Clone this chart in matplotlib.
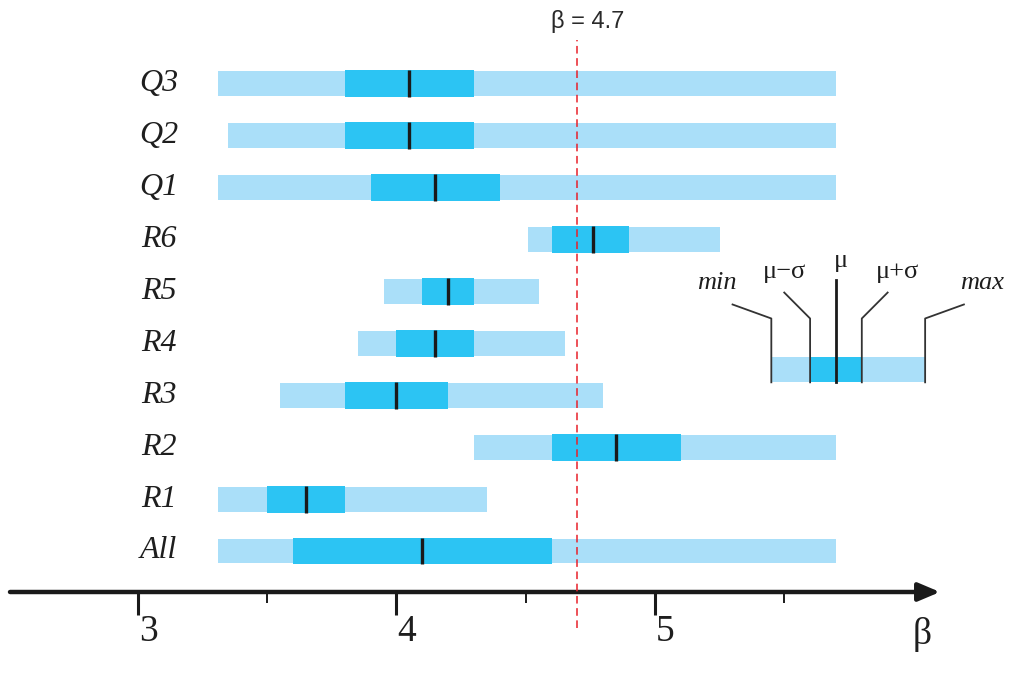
import matplotlib
matplotlib.use("Agg")
import matplotlib.pyplot as plt

# donnees
groupes = ["All", "R1", "R2", "R3", "R4", "R5", "R6", "Q1", "Q2", "Q3"]
minimum = [3.31, 3.31, 4.30, 3.55, 3.85, 3.95, 4.51, 3.31, 3.35, 3.31]
maximum = [5.70, 4.35, 5.70, 4.80, 4.65, 4.55, 5.25, 5.70, 5.70, 5.70]
moins_sigma = [3.60, 3.50, 4.60, 3.80, 4.00, 4.10, 4.60, 3.90, 3.80, 3.80]
plus_sigma = [4.60, 3.80, 5.10, 4.20, 4.30, 4.30, 4.90, 4.40, 4.30, 4.30]
moyenne = [4.10, 3.65, 4.85, 4.00, 4.15, 4.20, 4.76, 4.15, 4.05, 4.05]
beta_cible = 4.7
ticks_majeurs = [3, 4, 5]
ticks_mineurs = [3.5, 4.5, 5.5]

# barre d'exemple (legende)
leg_min, leg_ms, leg_mu, leg_ps, leg_max = 5.45, 5.60, 5.70, 5.80, 6.045
leg_y = 3.5

CLAIR = "#aadff9"
FONCE = "#2cc4f3"
SERIF = "Liberation Serif"
TEXTE = "#1e1e1e"

fig = plt.figure(figsize=(10.14, 6.75), dpi=100)
ax = fig.add_axes([0, 0, 1, 1])
ax.set_xlim(3 - 138 / 258.5, 3 + 876 / 258.5)
ax.set_ylim((551 - 675) / 51.9, 551 / 51.9)
ax.axis("off")

for i, nom in enumerate(groupes):
    ax.barh(i, maximum[i] - minimum[i], left=minimum[i], height=0.48, color=CLAIR, zorder=2)
    ax.barh(i, plus_sigma[i] - moins_sigma[i], left=moins_sigma[i], height=0.52, color=FONCE, zorder=3)
    ax.vlines(moyenne[i], i - 0.26, i + 0.26, color="#1a1a1a", lw=2.4, zorder=4)
    ax.text(3.08, i, nom, ha="center", va="center", family=SERIF, style="italic",
            fontsize=23, color=TEXTE)

# ligne beta = 4.7
ax.vlines(beta_cible, -1.48, 9.85, color="#e8202a", lw=1.1, linestyle=(0, (5, 3)), zorder=5)
ax.text(beta_cible + 0.04, 10.2, "β = 4.7", ha="center", va="center", fontsize=17,
        family="Liberation Sans", color="#2a2a2a")

# axe horizontal avec fleche
y_axe = (551 - 592) / 51.9
ax.annotate("", xy=(3 + (940 - 138) / 258.5, y_axe), xytext=(3 - 128 / 258.5, y_axe),
            arrowprops=dict(arrowstyle="-|>,head_length=1.3,head_width=0.55",
                            color="#1a1a1a", lw=3.2, shrinkA=0, shrinkB=0))
ax.vlines(ticks_majeurs, (551 - 615) / 51.9, y_axe, color="#1a1a1a", lw=2.2)
ax.vlines(ticks_mineurs, (551 - 603) / 51.9, y_axe, color="#1a1a1a", lw=1.4)
for t in ticks_majeurs:
    ax.text(t + 0.04, (551 - 632) / 51.9, str(t), ha="center", va="center",
            family=SERIF, fontsize=27, color=TEXTE)
ax.text(3 + (922 - 138) / 258.5, (551 - 634) / 51.9, "β", ha="center", va="center",
        family=SERIF, fontsize=27, color=TEXTE)

# legende schematique
ax.barh(leg_y, leg_max - leg_min, left=leg_min, height=0.48, color=CLAIR, zorder=2)
ax.barh(leg_y, leg_ps - leg_ms, left=leg_ms, height=0.48, color=FONCE, zorder=3)
bas = leg_y - 0.25
haut = leg_y + 0.98
kw = dict(color="#333333", lw=1.3, zorder=5)
ax.plot([leg_min, leg_min, leg_min - 0.15], [bas, haut, haut + 0.27], **kw)
ax.plot([leg_ms, leg_ms, leg_ms - 0.1], [bas, haut, haut + 0.5], **kw)
ax.plot([leg_mu, leg_mu], [bas, haut + 0.75], color="#1a1a1a", lw=2.0, zorder=5)
ax.plot([leg_ps, leg_ps, leg_ps + 0.1], [bas, haut, haut + 0.5], **kw)
ax.plot([leg_max, leg_max, leg_max + 0.15], [bas, haut, haut + 0.27], **kw)
ax.text(leg_min - 0.21, haut + 0.68, "min", ha="center", va="center", family=SERIF,
        style="italic", fontsize=19, color=TEXTE)
ax.text(leg_ms - 0.1, haut + 0.9, "μ−σ", ha="center", va="center", family=SERIF,
        fontsize=19, color=TEXTE)
ax.text(leg_mu + 0.02, haut + 1.1, "μ", ha="center", va="center", family=SERIF,
        fontsize=19, color=TEXTE)
ax.text(leg_ps + 0.14, haut + 0.9, "μ+σ", ha="center", va="center", family=SERIF,
        fontsize=19, color=TEXTE)
ax.text(leg_max + 0.22, haut + 0.68, "max", ha="center", va="center", family=SERIF,
        style="italic", fontsize=19, color=TEXTE)

fig.savefig("out.png", dpi=100)
